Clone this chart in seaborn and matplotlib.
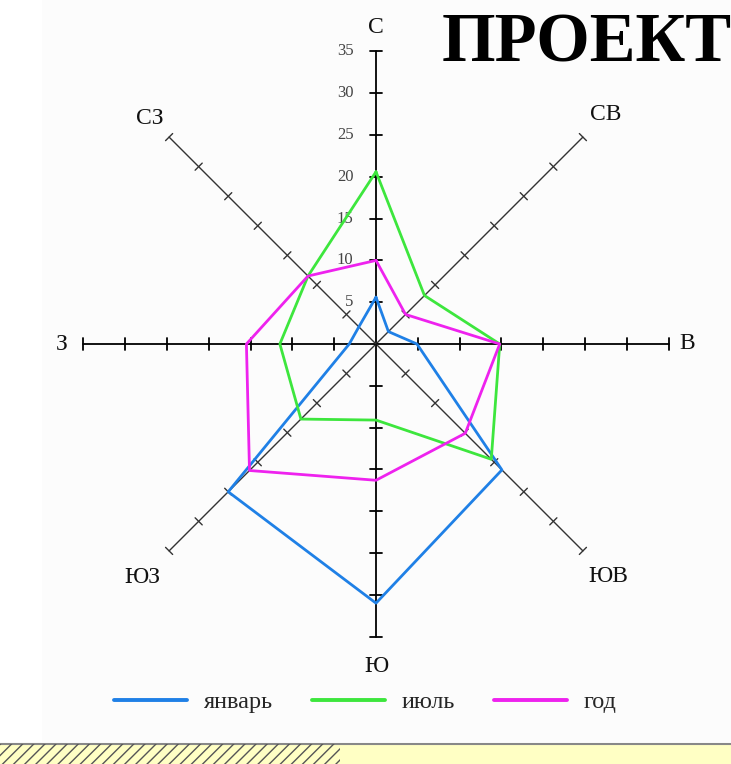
import numpy as np
import pandas as pd
import matplotlib
matplotlib.use('Agg')
import matplotlib.pyplot as plt
from matplotlib.patches import Rectangle
from matplotlib.lines import Line2D
import seaborn as sns

# wind directions (clockwise from north)
directions = ["С", "СВ", "В", "ЮВ", "Ю", "ЮЗ", "З", "СЗ"]
angles_deg = [0, 45, 90, 135, 180, 225, 270, 315]

# repeatability of winds, %
january = [5.6, 2.1, 4.9, 21.3, 31.0, 25.0, 3.2, 2.9]
july = [20.6, 8.2, 14.8, 19.5, 9.1, 12.7, 11.5, 11.5]
year = [10.0, 5.0, 14.8, 15.1, 16.3, 21.4, 15.5, 11.5]

series_names = ["январь", "июль", "год"]
series_values = [january, july, year]
colors = {"январь": "#1f80e6", "июль": "#3de63d", "год": "#ee22ee"}

scale_ticks = [5, 10, 15, 20, 25, 30, 35]
axis_max = 35

# build long table: closed polygons
rows = []
for name, vals in zip(series_names, series_values):
    for i in list(range(len(vals))) + [0]:
        th = np.deg2rad(angles_deg[i])
        rows.append({"series": name, "x": vals[i] * np.sin(th),
                     "y": vals[i] * np.cos(th)})
df = pd.DataFrame(rows)

sns.set_style("white")
plt.rcParams['font.family'] = ['Liberation Serif', 'DejaVu Serif']

W, H = 731, 764
fig = plt.figure(figsize=(W / 100, H / 100), dpi=100)
ax = fig.add_axes([0, 0, 1, 1])
px = 8.36  # pixels per unit
cx, cy = 376, 344
ax.set_xlim(-cx / px, (W - cx) / px)
ax.set_ylim(-(H - cy) / px, cy / px)
ax.set_axis_off()

# light panel background
fig.patches.append(Rectangle((42 / W, 22 / H), 1 - 42 / W, 1, transform=fig.transFigure,
                             facecolor="#fcfcfc", edgecolor="none", zorder=-5))

# direction axes with ticks
label_r = [37.8, 38.8, 37.2, 39.3, 38.6, 39.5, 37.6, 38.2]
for ang, lab, r in zip(angles_deg, directions, label_r):
    th = np.deg2rad(ang)
    ux, uy = np.sin(th), np.cos(th)
    diag = ang % 90 != 0
    lc = "#333333" if diag else "black"
    lw = 1.0 if diag else 1.3
    ax.plot([0, axis_max * ux], [0, axis_max * uy], color=lc, lw=lw, zorder=1)
    tl = 0.6 if diag else 0.7
    for t in scale_ticks:
        bx, by = t * ux, t * uy
        ax.plot([bx - tl * uy, bx + tl * uy], [by + tl * ux, by - tl * ux],
                color=lc, lw=lw, zorder=1)
    ax.text(r * ux, r * uy, lab, ha="center", va="center", fontsize=17, color="#111111")

# scale numbers along north axis
for t in scale_ticks:
    ax.text(-2.7, t, str(t), ha="right", va="center", fontsize=12, color="#444444")

sns.lineplot(data=df, x="x", y="y", hue="series", units="series", estimator=None,
             sort=False, palette=colors, lw=2.0, ax=ax, legend=False, zorder=3)

handles = [Line2D([], [], color=colors[n], lw=2.8) for n in series_names]
fig.legend(handles, series_names, loc="center", bbox_to_anchor=(0.5, 62 / H), ncol=3,
           frameon=False, fontsize=17.5, handlelength=3.0, handletextpad=0.7,
           columnspacing=1.6)

fig.text(442 / W, 1 - 12 / H, "ПРОЕКТ", ha="left", va="top", fontsize=49.5,
         fontweight="bold", color="black")

# bottom decorative strip
fig.patches.append(Rectangle((0, 0), 1, 20 / H, transform=fig.transFigure,
                             facecolor="#ffffc4", edgecolor="none", zorder=1))
fig.patches.append(Rectangle((0, 0), 340 / W, 20 / H, transform=fig.transFigure,
                             facecolor="none", edgecolor="#555555", hatch="///",
                             lw=0, zorder=2))
fig.lines.append(Line2D([0, 1], [20 / H, 20 / H], transform=fig.transFigure,
                        color="#888888", lw=1.5))

fig.savefig("out.png", dpi=100)
plt.close(fig)
